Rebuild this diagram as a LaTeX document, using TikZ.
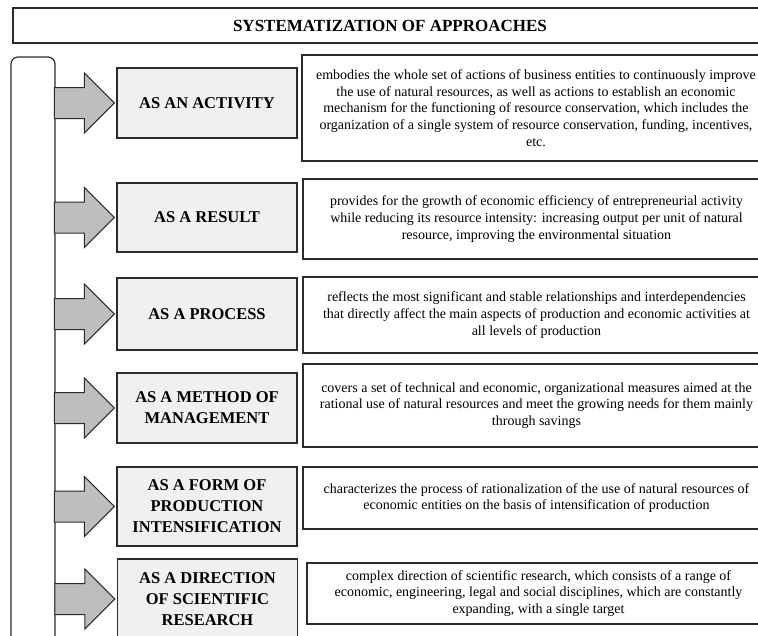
\documentclass[tikz,border=0pt]{standalone}
\usepackage{fontspec}
\setmainfont{Liberation Serif}
\usepackage{xcolor}
\usepackage{tikz}
\definecolor{SALine}{HTML}{2B2B2B}
\definecolor{SABox}{HTML}{F0F0F0}
\definecolor{SAArrow}{HTML}{BEBEBE}

\begin{document}
\begin{tikzpicture}[x=1pt,y=-1pt,
  approach/.style={draw=SALine,line width=1.2pt,fill=SABox,minimum width=180pt,align=center,font=\fontsize{16.5}{21}\selectfont\bfseries,inner sep=2pt},
  descr/.style={draw=SALine,line width=1.5pt,fill=white,align=center,font=\fontsize{14}{16.7}\selectfont,inner sep=2pt},
  blockarrow/.style={draw=SALine,line width=1pt,fill=SAArrow,line join=miter}]
\path[use as bounding box] (0,0) rectangle (758,635);
\clip (0,0) rectangle (758,635);
\node[draw=SALine,line width=1.5pt,minimum width=754pt,minimum height=35pt,font=\fontsize{17}{20}\selectfont\bfseries] (title) at (390,25.5) {SYSTEMATIZATION OF APPROACHES};
\draw[SALine,line width=1.2pt,rounded corners=7pt] (11,650) -- (11,57) -- (55,57) -- (55,650);
\node[approach,minimum height=70pt] (approach1) at (207,103) {AS AN ACTIVITY};
\node[approach,minimum height=69pt] (approach2) at (207,217.5) {AS A RESULT};
\node[approach,minimum height=72pt] (approach3) at (207,314) {AS A PROCESS};
\node[approach,minimum height=70pt] (approach4) at (207,408) {AS A METHOD OF\\MANAGEMENT};
\node[approach,minimum height=79pt] (approach5) at (207,506.5) {AS A FORM OF\\PRODUCTION\\INTENSIFICATION};
\node[approach,minimum height=80pt] (approach6) at (207.5,599) {AS A DIRECTION\\OF SCIENTIFIC\\RESEARCH};
\node[descr,minimum width=468pt,minimum height=106pt] (descr1) at (536,108) {embodies the whole set of actions of business entities to continuously improve\\the use of natural resources, as well as actions to establish an economic\\mechanism for the functioning of resource conservation, which includes the\\organization of a single system of resource conservation, funding, incentives,\\etc.};
\node[descr,minimum width=467pt,minimum height=80pt] (descr2) at (536.5,219) {provides for the growth of economic efficiency of entrepreneurial activity\\while reducing its resource intensity: increasing output per unit of natural\\resource, improving the environmental situation};
\node[descr,minimum width=467pt,minimum height=76pt] (descr3) at (536.5,315) {reflects the most significant and stable relationships and interdependencies\\that directly affect the main aspects of production and economic activities at\\all levels of production};
\node[descr,minimum width=467pt,minimum height=83pt] (descr4) at (536.5,405.5) {covers a set of technical and economic, organizational measures aimed at the\\rational use of natural resources and meet the growing needs for them mainly\\through savings};
\node[descr,minimum width=467pt,minimum height=62pt] (descr5) at (536.5,498) {characterizes the process of rationalization of the use of natural resources of\\economic entities on the basis of intensification of production};
\node[descr,minimum width=463pt,minimum height=61pt] (descr6) at (538.5,593.5) {complex direction of scientific research, which consists of a range of\\economic, engineering, legal and social disciplines, which are constantly\\expanding, with a single target};
\foreach \i in {1,...,6}
  \draw[blockarrow] ([xshift=-2pt]approach\i.west) -- ++(-30,30) -- ++(0,-14.5) -- ++(-30,0) -- ++(0,-31) -- ++(30,0) -- ++(0,-14.5) -- cycle;
\end{tikzpicture}
\end{document}
